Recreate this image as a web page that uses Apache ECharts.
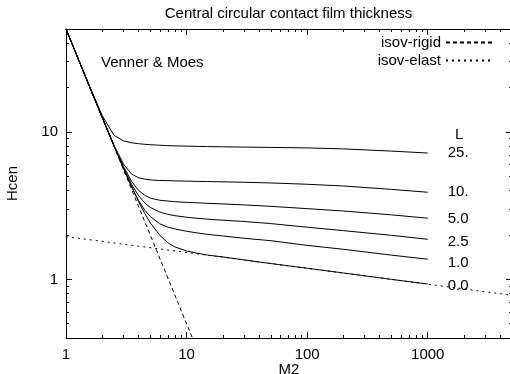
<!DOCTYPE html>
<html>
<head>
<meta charset="utf-8">
<script src="https://cdn.jsdelivr.net/npm/echarts@6/dist/echarts.min.js"></script>
<style>
html, body { margin: 0; padding: 0; background: #fff; }
#myChart { width: 510px; height: 374px; }
</style>
</head>
<body>
<div id="myChart"></div>
<script>
var mValues = [1, 1.5, 2, 2.5, 3, 3.5, 4, 4.5, 5, 6, 7, 8, 10, 12, 15, 20, 30, 50, 100, 200, 500, 1000]

// Hcen for each L
var hL25 = [50, 22.3, 12.9, 9.5, 8.7, 8.45, 8.33, 8.25, 8.2, 8.13, 8.08, 8.05, 8.02, 7.99, 7.96, 7.93, 7.9, 7.86, 7.8, 7.68, 7.42, 7.2]
var hL10 = [50, 22.2, 12.55, 8.13, 6.05, 5.18, 4.89, 4.79, 4.73, 4.69, 4.675, 4.66, 4.64, 4.625, 4.61, 4.59, 4.56, 4.51, 4.42, 4.3, 4.08, 3.9]
var hL5 = [50, 22.2, 12.53, 8.1, 5.83, 4.62, 4.01, 3.72, 3.56, 3.44, 3.4, 3.365, 3.33, 3.31, 3.28, 3.25, 3.2, 3.13, 3.02, 2.91, 2.74, 2.6]
var hL2_5 = [50, 22.2, 12.52, 8.07, 5.72, 4.41, 3.7, 3.3, 3.08, 2.86, 2.76, 2.705, 2.64, 2.6, 2.56, 2.52, 2.47, 2.39, 2.26, 2.14, 1.99, 1.87]
var hL1 = [50, 22.2, 12.51, 8.04, 5.65, 4.25, 3.43, 2.95, 2.67, 2.38, 2.26, 2.2, 2.12, 2.07, 2.02, 1.97, 1.9, 1.83, 1.7, 1.6, 1.46, 1.37]
var hL0 = [50, 22.2, 12.5, 8.07, 5.68, 4.26, 3.37, 2.8, 2.42, 1.99, 1.77, 1.66, 1.56, 1.51, 1.46, 1.42, 1.355, 1.28, 1.19, 1.105, 1.0, 0.93]

// asymptotes
var mRigid = [1, 11.18]
var hRigid = [50, 0.4]
var mElast = [1, 5000]
var hElast = [1.95, 0.78]

var curveNames = ['25.', '10.', '5.0', '2.5', '1.0', '0.0']
var curveData = [hL25, hL10, hL5, hL2_5, hL1, hL0]
var labelShift = [0, 0, 1, 3, 4, 2]

// ticks
var xMajor = [1, 10, 100, 1000]
var xMinor = [2, 3, 4, 5, 6, 7, 8, 9, 20, 30, 40, 50, 60, 70, 80, 90, 200, 300, 400, 500, 600, 700, 800, 900, 2000, 3000, 4000]
var yMajor = [1, 10]
var yMinor = [0.5, 0.6, 0.7, 0.8, 0.9, 2, 3, 4, 5, 6, 7, 8, 9, 20, 30, 40]

var font = 'Liberation Sans, Arial, Helvetica, sans-serif'
var black = '#000'

function pairs (xs, ys) {
	return xs.map(function (x, i) { return [x, ys[i]] })
}

function axis (pos, min, max, ticks, len, showLine, showLabels) {
	return {
		type: 'log',
		logBase: 10,
		position: pos,
		min: min,
		max: max,
		axisLine: { show: showLine, lineStyle: { color: black, width: 1 } },
		// a gapless dash keeps the ticks solid but stops zrender batching them
		axisTick: { show: true, inside: true, length: len, customValues: ticks, lineStyle: { color: black, width: 1, type: [10, 0] } },
		axisLabel: {
			show: showLabels,
			customValues: ticks,
			color: black,
			fontSize: 15,
			fontFamily: font,
			margin: 9,
			formatter: function (v) { return String(v) }
		},
		splitLine: { show: false }
	}
}

var xMain = axis('bottom', 1, 5000, xMajor, 6, true, true)
xMain.name = 'M2'
xMain.nameLocation = 'middle'
xMain.nameGap = 24
xMain.nameMoveOverlap = false
xMain.nameTextStyle = { color: black, fontSize: 15, fontFamily: font }

var yMain = axis('left', 0.4, 50, yMajor, 6, true, true)
yMain.axisLabel.margin = 8
yMain.name = 'Hcen'
yMain.nameLocation = 'middle'
yMain.nameGap = 46
yMain.nameTextStyle = { color: black, fontSize: 15, fontFamily: font }

var series = curveData.map(function (h, i) {
	return {
		name: 'L=' + curveNames[i],
		type: 'line',
		data: pairs(mValues, h),
		symbol: 'none',
		lineStyle: { color: black, width: 1 },
		endLabel: { show: true, formatter: curveNames[i], distance: 20, offset: [0, labelShift[i]], color: black, fontSize: 15, fontFamily: font },
		silent: true
	}
})
series.push({
	name: 'isov-rigid',
	type: 'line',
	zlevel: 1,
	data: pairs(mRigid, hRigid),
	symbol: 'none',
	lineStyle: { color: black, width: 1, type: [4, 3] },
	itemStyle: { color: black },
	silent: true
})
series.push({
	name: 'isov-elast',
	type: 'line',
	zlevel: 1,
	data: pairs(mElast, hElast),
	symbol: 'none',
	lineStyle: { color: black, width: 1, type: [2, 4] },
	itemStyle: { color: black },
	silent: true
})

var option = {
	animation: false,
	backgroundColor: '#fff',
	title: [
		{ text: 'Central circular contact film thickness', left: 288.5, top: 6, textAlign: 'center', padding: 0,
			textStyle: { color: black, fontSize: 15, fontWeight: 'normal', fontFamily: font } },
		{ text: 'Venner & Moes', left: 101, top: 55, padding: 0,
			textStyle: { color: black, fontSize: 15, fontWeight: 'normal', fontFamily: font } },
		{ text: 'L', left: 455, top: 127, padding: 0,
			textStyle: { color: black, fontSize: 15, fontWeight: 'normal', fontFamily: font } }
	],
	legend: {
		data: ['isov-rigid', 'isov-elast'],
		zlevel: 1,
		orient: 'vertical',
		right: 15,
		top: 35,
		align: 'right',
		padding: 0,
		itemWidth: 48,
		itemHeight: 10,
		itemGap: 3,
		selectedMode: false,
		itemStyle: { opacity: 0 },
		textStyle: { color: black, fontSize: 15, fontFamily: font }
	},
	grid: {
		left: 66,
		right: -2,
		top: 29,
		bottom: 36,
		outerBoundsMode: 'none'
	},
	xAxis: [
		xMain,
		axis('bottom', 1, 5000, xMinor, 3, false, false),
		axis('top', 1, 5000, xMajor, 6, true, false),
		axis('top', 1, 5000, xMinor, 3, false, false)
	],
	yAxis: [
		yMain,
		axis('left', 0.4, 50, yMinor, 3, false, false),
		axis('right', 0.4, 50, yMajor, 6, true, false),
		axis('right', 0.4, 50, yMinor, 3, false, false)
	],
	series: series
}

var myChart = echarts.init(document.getElementById('myChart'))
myChart.setOption(option)
</script>
</body>
</html>
